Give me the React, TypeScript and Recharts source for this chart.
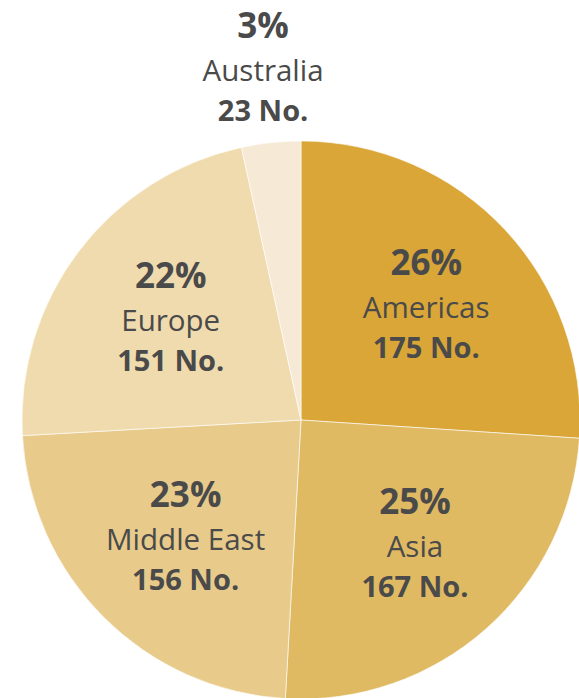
import { PieChart, Pie, Cell } from "recharts";

const regions = ["Americas", "Asia", "Middle East", "Europe", "Australia"];
const counts = [175, 167, 156, 151, 23];
const colors = ["#D9A637", "#E0B963", "#E8CB8B", "#F0DBAE", "#F6EAD6"];

const data = regions.map((name, i) => ({ name, value: counts[i] }));
const total = counts.reduce((a, b) => a + b, 0);

const TEXT = "#4a4a4a";
const FONT = "'Open Sans', 'Noto Sans', sans-serif";
const RAD = Math.PI / 180;

function renderLabel(props: any) {
  const { cx, cy, outerRadius, midAngle, value, name } = props;
  const pct = Math.round((value / total) * 100);
  // small slices get their label outside the pie
  const outside = pct < 5;
  const r = outside ? outerRadius * 1.265 : outerRadius * 0.6;
  const x = cx + r * Math.cos(-midAngle * RAD) + (outside ? 0 : 3);
  const y = cy + r * Math.sin(-midAngle * RAD);
  return (
    <g>
      <text x={x} y={y - 31} textAnchor="middle" fill={TEXT} fontFamily={FONT} fontWeight={700} fontSize={35}>
        {pct}%
      </text>
      <text x={x} y={y + 12} textAnchor="middle" fill={TEXT} fontFamily={FONT} fontSize={29.5}>
        {name}
      </text>
      <text x={x} y={y + 52} textAnchor="middle" fill={TEXT} fontFamily={FONT} fontWeight={700} fontSize={29}>
        {value} No.
      </text>
    </g>
  );
}

export default function App() {
  return (
    <div style={{ width: 579, height: 698, background: "#fff" }}>
      <style>{"body{margin:0}"}</style>
      <PieChart width={579} height={698} margin={{ top: 0, right: 0, bottom: 0, left: 0 }}>
        <Pie
          data={data}
          dataKey="value"
          nameKey="name"
          cx={301}
          cy={420}
          outerRadius={279}
          startAngle={90}
          endAngle={-270}
          stroke="#ffffff"
          strokeWidth={0.6}
          label={renderLabel}
          labelLine={false}
          isAnimationActive={false}
        >
          {data.map((d, i) => (
            <Cell key={d.name} fill={colors[i]} />
          ))}
        </Pie>
      </PieChart>
    </div>
  );
}
